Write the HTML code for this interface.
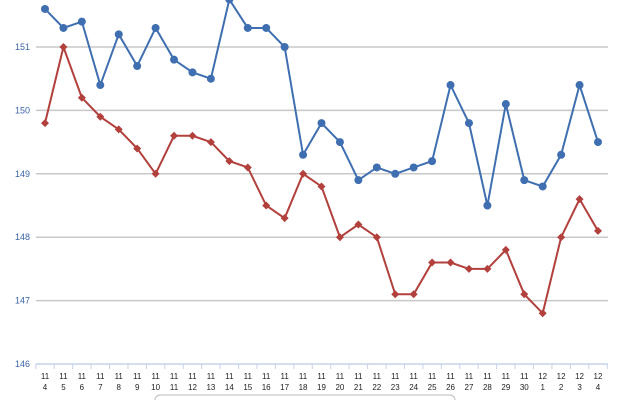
<!DOCTYPE html>
<html><head><meta charset="utf-8"><style>
body{margin:0;background:#fff;font-family:"Liberation Sans",sans-serif}
svg text{font-family:"Liberation Sans",sans-serif}
</style></head><body>
<svg id="c" width="640" height="400"></svg>
<script>
const months=["11","11","11","11","11","11","11","11","11","11","11","11","11","11","11","11","11","11","11","11","11","11","11","11","11","11","11","12","12","12","12"];
const days=["4","5","6","7","8","9","10","11","12","13","14","15","16","17","18","19","20","21","22","23","24","25","26","27","28","29","30","1","2","3","4"];
const seriesBlue=[151.6,151.3,151.4,150.4,151.2,150.7,151.3,150.8,150.6,150.5,151.75,151.3,151.3,151.0,149.3,149.8,149.5,148.9,149.1,149.0,149.1,149.2,150.4,149.8,148.5,150.1,148.9,148.8,149.3,150.4,149.5];
const seriesRed=[149.8,151.0,150.2,149.9,149.7,149.4,149.0,149.6,149.6,149.5,149.2,149.1,148.5,148.3,149.0,148.8,148.0,148.2,148.0,147.1,147.1,147.6,147.6,147.5,147.5,147.8,147.1,146.8,148.0,148.6,148.1];
const yTicks=[146,147,148,149,150,151];
const svg=document.getElementById('c');const NS='http://www.w3.org/2000/svg';
const x0=45,x1=598,yMin=146,yMax=151,py0=364,py1=47;
const X=i=>x0+i*(x1-x0)/(days.length-1);
const Y=v=>py0-(v-yMin)*(py0-py1)/(yMax-yMin);
function mk(t,a){const e=document.createElementNS(NS,t);for(const k in a)e.setAttribute(k,a[k]);svg.appendChild(e);return e;}
yTicks.forEach(v=>{
 const g=mk('line',{x1:36,x2:608,y1:Y(v),y2:Y(v),stroke:v===yMin?'#c5d3e6':'#c8c8c8','stroke-width':v===yMin?1.5:1.5});
 
 
 const t=mk('text',{x:30,y:Y(v)+3,'text-anchor':'end','font-size':9,fill:'#3a64a8'});t.textContent=v;
 
 
});
const step=(x1-x0)/(days.length-1);
for(let i=0;i<=days.length;i++){const tk=mk('line',{x1:x0-step/2+i*step,x2:x0-step/2+i*step,y1:364,y2:369,stroke:'#c5d3e6'});
 
 }
days.forEach((d,i)=>{
 const t1=mk('text',{x:X(i),y:379,'text-anchor':'middle','font-size':8,fill:'#222'});t1.textContent=months[i];
 
 
 const t2=mk('text',{x:X(i),y:390,'text-anchor':'middle','font-size':8,fill:'#222'});t2.textContent=d;
 
 
});
function series(vals,color,name,diamond){
 const p=mk('polyline',{points:vals.map((v,i)=>X(i)+','+Y(v)).join(' '),fill:'none',stroke:color,'stroke-width':2});
 
 
 vals.forEach((v,i)=>{let m;
  if(diamond)m=mk('polygon',{points:`${X(i)},${Y(v)-4} ${X(i)+4},${Y(v)} ${X(i)},${Y(v)+4} ${X(i)-4},${Y(v)}`,fill:color});
  else m=mk('circle',{cx:X(i),cy:Y(v),r:4,fill:color});
  
  
 });
}
series(seriesBlue,'#3f6fb0','blue-series',false);
series(seriesRed,'#b2403c','red-series',true);
const lg=mk('rect',{x:155,y:395,width:300,height:12,rx:5,fill:'#fff',stroke:'#bbb'});


</script>
</body></html>
